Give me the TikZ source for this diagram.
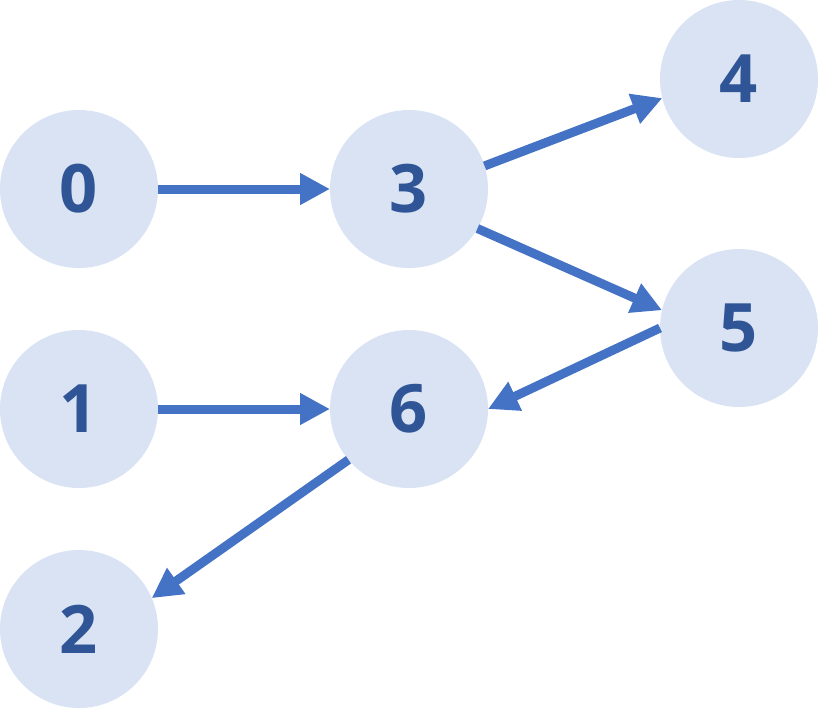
\documentclass[tikz,border=0pt]{standalone}
\usepackage{fontspec}
\setmainfont{Open Sans}
\usetikzlibrary{arrows.meta}
\definecolor{vfill}{HTML}{DAE3F3}
\definecolor{vtext}{HTML}{2F5597}
\definecolor{eblue}{HTML}{4472C4}

\begin{document}
\begin{tikzpicture}[vert/.style={circle,fill=vfill,minimum size=3.16cm,inner sep=0pt,outer sep=0pt,text=vtext,font=\fontsize{38}{40}\selectfont\bfseries},
  link/.style={color=eblue,line width=0.18cm,-{Triangle[length=0.6cm,width=0.6cm]}}]
\useasboundingbox (0,0) rectangle (16.38,-14.16);
\node[vert] (v0) at (1.58,-3.78) {0}; \node[vert] (v1) at (1.58,-8.18) {1}; \node[vert] (v2) at (1.58,-12.58) {2};
\node[vert] (v3) at (8.18,-3.78) {3}; \node[vert] (v6) at (8.18,-8.18) {6};
\node[vert] (v4) at (14.78,-1.58) {4}; \node[vert] (v5) at (14.78,-6.56) {5};
\draw[link] (v0.east) -- (v3.west); \draw[link] (v1.east) -- (v6.west);
\draw[link] (v3.17) -- (v4.194); \draw[link] (v3.330) -- (v5.167);
\draw[link] (v5.west) -- (v6.east); \draw[link] (v6.220) -- (v2.23);
\end{tikzpicture}
\end{document}
